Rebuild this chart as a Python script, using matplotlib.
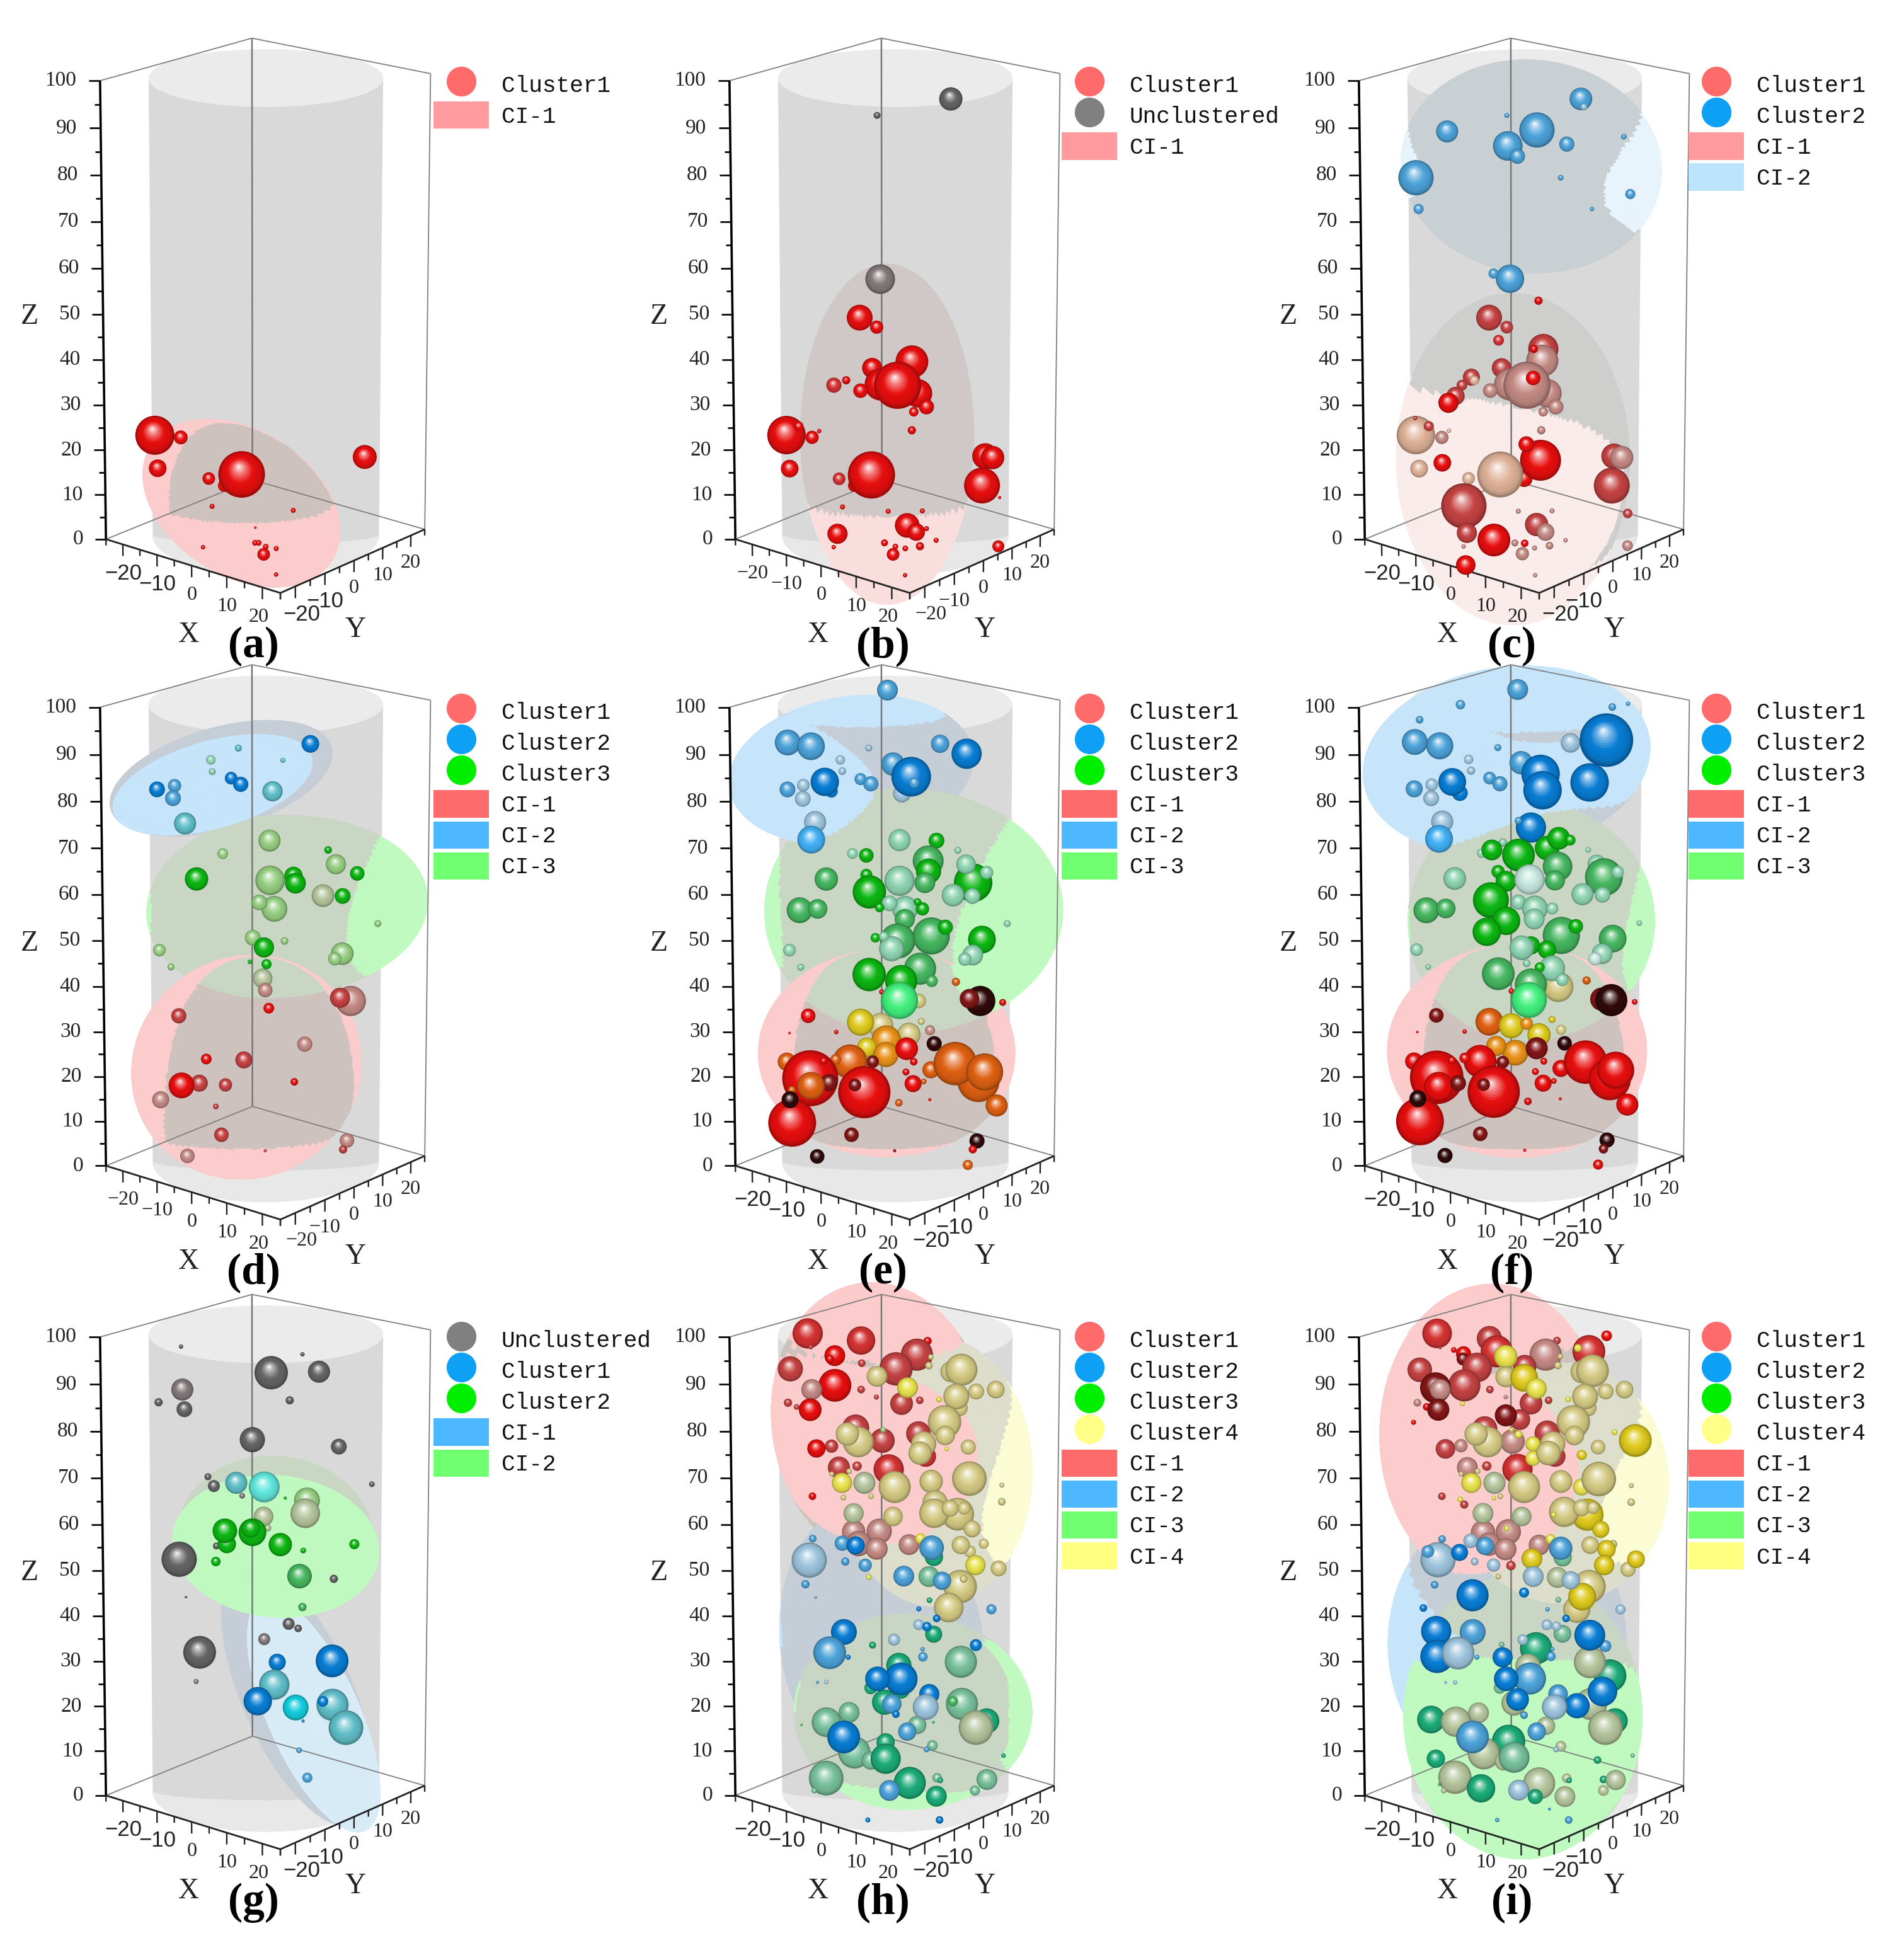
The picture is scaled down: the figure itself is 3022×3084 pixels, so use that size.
import numpy as np
import matplotlib
matplotlib.use("Agg")
import matplotlib.pyplot as plt
from matplotlib.lines import Line2D
from matplotlib.patches import Patch
from mpl_toolkits.mplot3d import proj3d
from mpl_toolkits.mplot3d.art3d import Poly3DCollection

# ---------- data: (x, y, z, diameter, colour code) ----------
A_C1 = [(-18.6,-15.7,22.3,62,'r'),(-14.3,-12,21.8,22,'r'),(-18.2,-15.3,14.9,28,'r'),(-9.6,-8.1,12.6,20,'r'),(-7,-5.9,11,20,'r'),
(-4.1,-3.4,13.5,74,'r'),(16.6,14,17.4,38,'r'),(-9.1,-7.6,6.3,8,'r'),(4.6,3.9,5.4,8,'r'),(-1.8,-1.5,1.5,4,'r'),(-5.4,-15,0,7,'r'),
(1.6,-5.6,0,9,'r'),(2.2,-5.1,0,9,'r'),(4.9,-5.9,0,9,'r'),(7.6,-9.8,0,20,'r'),(7.4,-5.3,0,8,'r'),(17.4,-17.3,0,7,'r')]

B_U = [(9.1,7.6,95.4,37,'s'),(-3,-2.5,91.9,11,'s'),(-2.5,-2.1,56.7,47,'S')]
B_C1 = [(-5.9,-5,48.3,41,'r'),(-3.1,-2.6,46.2,21,'r'),(2.8,2.3,38.6,52,'r'),(-3.9,-3.2,37.2,32,'r'),(-2.4,-2.1,33.6,51,'r'),(3.8,3.2,31.6,45,'r'),
(5.2,4.4,28.6,24,'r'),(0.4,0.3,33.4,75,'r'),(3.1,2.6,27.5,15,'r'),(2.8,2.3,23.4,13,'r'),(-5.8,-4.9,32.2,23,'r'),(-10.3,-8.6,33.4,24,'q'),(-8.2,-6.9,34.5,13,'r'),
(-18.3,-15.3,22.3,61,'r'),(-16.2,-13.6,24.3,15,'r'),(-14,-11.7,21.8,21,'r'),(-12.8,-10.7,23.2,7,'r'),(-17.8,-14.9,14.8,28,'r'),(-9.5,-7.9,12.5,20,'q'),(-6.9,-5.8,11,20,'r'),
(-4,-3.4,13.4,75,'r'),(15.1,12.7,17.6,41,'r'),(16.4,13.7,17.3,37,'r'),(14.6,12.3,11,57,'r'),(17.6,14.8,8.3,5,'r'),(-8.9,-7.5,6.2,8,'r'),(4.6,3.8,5.3,8,'r'),(-1.2,-1,5.2,8,'r'),
(2,1.7,2,39,'r'),(3.5,3,0.5,28,'r'),(-9.8,-8.2,0.1,32,'r'),(5.3,4.4,1.3,8,'r'),(22.1,8.8,0,19,'r'),(9.3,2.9,0,8,'r'),(8.9,-2.2,0,13,'r'),(7.3,-5.3,0,9,'r'),(1.6,-5.6,0,11,'r'),
(4.9,-5.8,0,9,'r'),(7.6,-9.8,0,20,'r'),(-5.2,-14.8,0,7,'r'),(17.6,-17.7,0,7,'r')]

C_C2 = [(9.2,7.7,95.4,36,'l'),(9.7,8.1,93.7,11,'L'),(2,1.7,88.8,56,'l'),(-2.8,-2.3,85.4,47,'l'),(-1.2,-1,83.2,24,'l'),(6.9,5.8,85.8,24,'l'),(-12.7,-10.7,88.5,35,'l'),
(-2.9,-2.5,91.9,8,'l'),(16.3,13.6,87.4,9,'l'),(5.9,5,78.6,9,'l'),(-17.9,-15,78.6,56,'l'),(-17.5,-14.7,71.9,16,'l'),(17.4,14.6,75.1,16,'l'),(11.1,9.3,71.9,7,'l'),(-2.4,-2.1,56.8,45,'l'),(-5.2,-4.3,57.9,16,'l')]
C_C1 = [(2.3,1.9,52,13,'r'),(-5.9,-5,48.3,41,'R'),(-3,-2.5,46.2,20,'R'),(-4.4,-3.6,43.3,17,'q'),(3.1,2.6,41.4,48,'R'),(2.9,2.5,38.8,51,'P'),(1.5,1.3,41.4,13,'r'),(-3.9,-3.2,37.2,31,'R'),
(-2.4,-2.1,33.6,51,'P'),(3.8,3.2,31.6,45,'P'),(5.2,4.4,28.6,24,'P'),(0.4,0.3,33.4,75,'P'),(3.1,2.6,27.5,15,'P'),(2.8,2.3,23.4,13,'P'),(1.4,1.2,35,23,'r'),(-5.8,-4.8,32.2,23,'P'),(-8.9,-7.5,35.2,27,'R'),
(-8.4,-7.1,34.5,15,'p'),(-10.5,-8.8,33.4,17,'R'),(-11.6,-9.7,31,29,'R'),(-12.8,-10.7,29.5,32,'r'),(-18.3,-15.3,22.3,61,'p'),(-16.1,-13.5,24.3,16,'R'),(-13.9,-11.7,21.8,21,'P'),(-12.7,-10.7,23.3,7,'p'),
(-18.4,-15.4,26.1,7,'R'),(-17.8,-14.9,14.8,28,'p'),(-13.9,-11.6,16.1,28,'r'),(-0.1,-0.1,12.6,27,'r'),(2.7,2.2,16.7,65,'r'),(0.3,0.2,20.3,25,'r'),(-9.5,-7.9,12.6,20,'p'),(-4.1,-3.5,13.5,73,'p'),(15,12.6,17.6,40,'R'),(16.3,13.7,17.3,37,'P'),
(14.7,12.3,11,57,'R'),(17.4,14.6,4.7,15,'R'),(-10.3,-8.6,6.4,72,'R'),(2,1.7,2.2,37,'R'),(3.5,3,0.5,28,'P'),(-1.1,-0.9,5.2,8,'P'),(4.6,3.9,5.3,8,'P'),(-9.8,-8.2,0.3,32,'R'),(-2.9,-7.1,0,52,'r'),(2.3,-22.6,0,31,'r'),
(7.3,-9.5,0,21,'P'),(3.6,-4.3,0,12,'r'),(1.8,-5.5,0,11,'P'),(7.1,-5.1,0,8,'P'),(8.7,-1.9,0,12,'P'),(9.3,2.9,0,7,'P'),(21.8,9.1,0,17,'P'),(17.7,-17.6,0,7,'P'),(-5.4,-14.4,0,7,'P')]

D_C1 = [(-0.5,-0.5,40.8,31,'K'),(-0.1,-0.1,38.2,23,'P'),(0.5,0.4,34.2,17,'r'),(14.2,11.9,35.8,48,'P'),(12.4,10.4,36.5,32,'R'),(-14.6,-12.2,32.5,24,'R'),(6.5,5.5,26.2,24,'P'),(-10,-8.4,22.9,17,'r'),
(-3.7,-3.1,22.7,27,'R'),(-11.2,-9.4,17.5,27,'R'),(-14.2,-11.9,17,41,'r'),(-6.8,-5.7,17.1,21,'R'),(4.8,4,17.8,12,'r'),(-17.7,-14.9,13.8,27,'P'),(-8.4,-7.1,12.3,9,'R'),(-7.5,-6.3,5.9,23,'R'),(13.7,11.5,4.6,23,'P'),
(13.1,10.9,2.6,13,'R'),(-13.3,-11.1,1.1,23,'P'),(-0.1,-0.1,2.3,5,'R')]
D_C2 = [(7.3,6.1,91.5,28,'b'),(-4.5,-3.8,90.6,11,'a'),(-9,-7.6,88.1,15,'m'),(-8.8,-7.4,85.6,11,'m'),(2.8,2.3,88,8,'a'),(-15,-12.6,82.6,21,'l'),(-17.9,-15,81.8,25,'b'),(-15.3,-12.8,79.9,25,'l'),(-5.7,-4.8,84.2,20,'b'),
(-4.1,-3.5,82.9,24,'b'),(1.1,0.9,81.4,32,'a'),(-13.3,-11.2,74.5,35,'a')]
D_C3 = [(0.6,0.5,70.8,35,'G'),(-7.1,-6,68,17,'G'),(-11.5,-9.6,62.5,37,'g'),(0.7,0.6,62.2,47,'G'),(4.6,3.8,63.2,29,'g'),(4.9,4.1,61.6,33,'g'),(10.3,8.6,68.8,12,'g'),(11.6,9.7,65.7,32,'G'),(15.1,12.7,63.7,23,'g'),
(9.5,7.9,58.9,36,'K'),(12.7,10.7,58.8,25,'g'),(1.4,1.2,56,41,'G'),(-1.1,-0.9,57.4,25,'G'),(18.6,15.6,52.8,11,'G'),(-2.2,-1.8,49.7,25,'G'),(-0.3,-0.3,47.6,32,'g'),(3.1,2.6,49,12,'G'),(-17.7,-14.9,47,20,'G'),
(-15.8,-13.3,43.3,11,'G'),(-2.7,-2.2,44.4,7,'g'),(0.1,0.1,43.9,16,'g'),(12.7,10.7,46.2,36,'G'),(11.5,9.6,45.1,21,'G')]

E_C1 = [(10.1,8.5,40,13,'o'),(-2.3,-1.9,37.8,8,'r'),(14.2,11.9,35.8,48,'k'),(12.4,10.4,36.3,31,'d'),(18,15,35.5,11,'r'),(-14.6,-12.2,32.5,23,'r'),(-17.7,-14.9,28.7,4,'r'),(-9.9,-8.3,28.9,7,'r'),(3.9,3.3,35.8,23,'Y'),
(-2.4,-2.1,30.4,40,'Y'),(2.3,1.9,28.4,37,'Y'),(4.4,3.6,31.3,11,'Y'),(5.8,4.9,29.3,16,'P'),(-1.5,-1.3,27.1,47,'u'),(-5.8,-4.9,31.1,43,'y'),(-4.8,-4,25.5,31,'y'),(-1.6,-1.3,23.9,40,'u'),(1.9,1.6,25.2,36,'r'),(6.5,5.5,26.3,24,'k'),
(-3.8,-3.2,22.3,20,'d'),(-7.6,-6.4,22.3,55,'o'),(-10,-8.4,22.8,17,'o'),(-18.2,-15.3,22.3,29,'o'),(-14.3,-12,18.6,89,'r'),(-12,-10.1,22.5,12,'r'),(-11.2,-9.3,17.6,27,'d'),(-14.2,-11.9,16.9,44,'o'),(-5.2,-4.4,15.5,83,'r'),
(-6.8,-5.7,17.1,20,'d'),(3.1,2.6,22.3,12,'r'),(6,5,20.5,27,'o'),(14,11.7,18,67,'o'),(10.1,8.4,21.9,69,'o'),(15,12.6,20,59,'o'),(1.8,1.5,20,11,'r'),(3,2.5,17.4,27,'r'),(4.8,4,17.9,9,'o'),(0.6,0.5,13.1,12,'o'),(5.8,4.9,13.8,5,'r'),
(17.1,14.3,12.5,35,'o'),(-17.4,-14.6,16,13,'o'),(-17.4,-14.6,8.6,76,'r'),(-17.7,-14.9,13.8,27,'k'),(-7.4,-6.2,5.9,23,'d'),(-13.2,-11.1,1,23,'k'),(13.8,11.6,4.5,24,'k'),(13.1,11,2.6,13,'r'),(13.9,8.3,0,16,'o'),(-0.1,-0.1,2.3,5,'d')]
E_C2 = [(-9,8.1,100,33,'l'),(-17.6,-14.8,91.8,41,'l'),(-13.8,-11.6,91,44,'l'),(-4.4,-3.6,90.6,11,'L'),(-9,-7.6,88.1,15,'L'),(-8.7,-7.3,85.7,12,'L'),(-17.7,-14.9,81.8,25,'l'),(-15.1,-12.7,82.7,20,'L'),(-15.2,-12.8,79.8,25,'L'),
(-10.5,-8.8,81.4,20,'b'),(-11.6,-9.7,83.4,45,'b'),(-5.7,-4.8,84,19,'l'),(-4,-3.4,83,24,'l'),(-0.4,-0.3,87.2,37,'l'),(1.1,0.9,80.9,28,'L'),(2.6,2.2,84.5,63,'b'),(3.1,2.6,83.2,17,'l'),(7.3,6.2,91.5,29,'l'),(11.7,9.8,89.4,48,'b'),
(-13.2,-11.1,74.8,35,'L'),(-13.9,-11.6,71,44,'B')]
E_C3 = [(0.7,0.6,70.9,35,'m'),(6.8,5.7,70.8,25,'g'),(10.3,8.7,68.7,11,'m'),(-7.1,-5.9,68,17,'m'),(-4.8,-4,67.6,23,'g'),(5.4,4.6,66.4,49,'e'),(5.5,4.6,64.2,40,'g'),(4.9,4.1,61.7,33,'e'),(-11.4,-9.6,62.5,37,'e'),
(-4.8,-4,63.4,19,'g'),(-4.3,-3.6,59.7,53,'g'),(0.7,0.6,62.1,48,'m'),(12.9,10.8,61.7,61,'g'),(11.7,9.8,65.7,31,'m'),(15.1,12.7,63.9,21,'m'),(9.6,8,59,36,'m'),(12.8,10.7,58.8,25,'m'),(-15.9,-13.3,55.7,41,'e'),(-12.9,-10.8,56,31,'e'),
(1.6,1.4,56,41,'m'),(-1,-0.8,57.2,25,'m'),(-2.6,-2.2,56.3,15,'g'),(4.5,3.8,56,21,'g'),(3.7,3.1,57.5,12,'g'),(1.6,1.3,53.8,32,'e'),(18.6,15.6,52.8,11,'m'),(6,5,50.1,59,'e'),(8.3,7,52,24,'g'),(14.4,12.1,49.3,44,'g'),(-3.3,-2.8,49.7,15,'g'),
(0.4,0.3,49,56,'e'),(-0.6,-0.5,47.3,40,'m'),(-1.9,-1.6,50,15,'m'),(-17.6,-14.8,47,20,'m'),(-15.8,-13.2,43.2,11,'m'),(12.9,10.8,45.9,33,'m'),(11.6,9.7,45,21,'m'),(-4.4,-3.6,41.6,53,'g'),(4.1,3.5,42.9,51,'e'),(6.1,5.1,40.2,19,'e'),(1,0.8,40.2,51,'g'),
(0.7,0.6,35.9,59,'W')]

F_C1 = [(5.6,4.7,38.9,48,'Y'),(10.3,8.7,40.3,13,'o'),(12.9,10.8,36.2,37,'d'),(14.5,12.1,36,51,'k'),(18.4,15.4,35.6,9,'r'),(-14.8,-12.4,32.6,23,'d'),(-2.2,-1.9,38,9,'r'),(-5.9,-5,31.2,44,'o'),(-2.2,-1.9,30.3,40,'y'),(2.4,2,28.3,37,'y'),
(6.1,5.1,29.4,16,'Y'),(4.6,3.8,31.7,11,'y'),(-1.6,-1.3,24.3,41,'u'),(-4.8,-4,25.8,32,'u'),(0.3,0.3,30.8,20,'u'),(2,1.7,25.3,35,'d'),(6.7,5.6,26.4,23,'k'),(-7.5,-6.3,22.4,52,'r'),(-10.1,-8.4,23.1,17,'r'),(-18.6,-15.6,22.4,28,'r'),(-14.8,-12.4,18.8,85,'r'),
(-12.2,-10.3,22.6,13,'r'),(-14.5,-12.1,16.7,47,'r'),(-11.2,-9.4,17.5,25,'d'),(-3.7,-3.1,22.2,20,'d'),(-5.2,-4.4,15.6,83,'r'),(-6.9,-5.8,17.2,20,'d'),(3.2,2.7,22.4,11,'r'),(6.1,5.1,20.8,27,'r'),(10.2,8.6,22.2,69,'r'),(14.3,12,18.4,67,'r'),(15.3,12.8,20.4,59,'r'),
(1.8,1.5,20.1,11,'r'),(3.1,2.6,17.5,27,'r'),(4.9,4.1,18,9,'r'),(0.5,0.5,13.4,12,'r'),(6,5,14,5,'r'),(17.3,14.5,12.7,35,'r'),(-17.7,-14.8,8.9,76,'r'),(-18,-15.1,14,27,'k'),(-7.5,-6.3,6.1,23,'d'),(-13.5,-11.3,1.2,24,'k'),(13.9,11.7,4.7,24,'k'),(13.3,11.2,2.7,15,'d'),
(13.9,8.6,0,16,'r'),(0,0,2.4,5,'r'),(-18,-15.1,28.9,4,'r'),(-10.1,-8.4,29,7,'r')]
F_C2 = [(-9.2,8.6,100,33,'l'),(-10.5,-8.8,99.8,15,'l'),(-17.2,-14.4,96.6,12,'l'),(-18,-15.1,91.9,41,'l'),(-13.9,-11.7,91.1,43,'l'),(-9.2,-7.7,88.2,15,'L'),(-8.8,-7.4,85.8,13,'L'),(-4.4,-3.7,90.7,11,'l'),(-18.2,-15.2,81.9,27,'l'),(-15.3,-12.8,82.8,20,'L'),(-15.4,-12.9,79.9,25,'L'),
(-10.7,-8.9,81,25,'b'),(-11.9,-10,83.4,44,'b'),(-5.8,-4.8,84.2,20,'l'),(-4.1,-3.4,83,24,'l'),(-0.6,-0.5,87.5,37,'l'),(2.6,2.2,85.1,61,'b'),(2.9,2.5,81.6,61,'b'),(7.5,6.3,91.7,31,'L'),(13.4,11.2,92.3,85,'b'),(10.7,8.9,83.3,61,'b'),(14.3,12,99.3,12,'l'),(16.9,14.1,100,7,'l'),
(-13.6,-11.4,74.9,35,'L'),(-14.1,-11.9,71.2,44,'B'),(1,0.9,73.6,48,'b'),(-1,-0.9,75.1,12,'l')]
F_C3 = [(-7.1,-6,68.1,15,'m'),(-3.6,-3,70.4,13,'m'),(3.7,3.1,69.2,39,'g'),(5.6,4.7,71.3,36,'g'),(7.5,6.3,70.9,17,'g'),(-5.4,-4.6,68.8,33,'g'),(-1,-0.9,67.7,52,'g'),(5.4,4.6,65.2,47,'e'),(5,4.2,62.2,32,'e'),(11.9,10,65.8,29,'m'),(13.1,11,62.9,60,'e'),(15.4,12.9,64,20,'m'),
(9.6,8,59.2,35,'m'),(12.9,10.8,59.1,25,'m'),(10.5,8.8,68.8,9,'m'),(-11.6,-9.7,62.6,36,'m'),(-4.4,-3.7,64.1,21,'g'),(-3.1,-2.6,62,33,'g'),(-5.6,-4.7,57.9,57,'g'),(-16.3,-13.7,55.7,41,'e'),(-13.1,-11,56.1,31,'e'),(-1,-0.9,57.5,24,'m'),(1.7,1.4,56.1,41,'m'),(-3.1,-2.6,53.4,45,'g'),
(-6.3,-5.3,51,45,'g'),(1.6,1.3,53.8,33,'m'),(4.6,3.8,56.1,19,'m'),(6.1,5.1,50.2,59,'e'),(8.5,7.1,52.2,23,'g'),(14.6,12.3,49.5,44,'e'),(19,16,52.9,9,'m'),(-18,-15.1,47.1,20,'m'),(-16.1,-13.5,43.3,9,'m'),(12.9,10.8,46.2,33,'m'),(11.7,9.8,45.1,21,'w'),(1,0.9,48,29,'g'),(3.7,3.1,47.1,29,'g'),
(-0.5,-0.4,47.5,39,'m'),(-4.4,-3.7,41.8,52,'e'),(4.6,3.8,43,41,'m'),(6.3,5.2,40.5,20,'m'),(2.5,2.1,43.2,16,'g'),(0.3,0.3,44.1,12,'m'),(1,0.9,39.4,51,'e'),(0.8,0.7,62.4,48,'w'),(0.7,0.6,36,57,'W')]

G_U = [(-13.9,-11.6,97.2,7,'s'),(6,5,95.6,7,'s'),(0.9,0.7,91.7,53,'s'),(8.7,7.3,91.9,35,'s'),(-13.7,-11.5,88.1,35,'S'),(-17.6,-14.8,85.4,13,'s'),(-13.4,-11.2,83.9,25,'s'),(3.9,3.3,85.8,13,'s'),(-2.2,-1.9,77.4,40,'s'),(12,10.1,75.9,25,'s'),(-9.6,-8,69.4,11,'s'),(-8.6,-7.2,67.4,19,'s'),
(17.5,14.7,67.8,9,'s'),(-3.9,-3.3,65.3,9,'S'),(-8.2,-6.9,54.4,11,'s'),(-14.4,-12.1,51.5,56,'s'),(11.3,9.5,47.2,13,'s'),(-13.3,-11.2,43.2,4,'s'),(3.8,3.2,37.3,19,'s'),(5.4,4.5,36.3,12,'s'),(-0.3,-0.2,33.9,19,'S'),(-11.1,-9.3,31,52,'s'),(-11.7,-9.8,24.5,8,'S')]
G_C1 = [(-4.9,-4.1,68.1,35,'a'),(-0.3,-0.2,67.2,49,'C'),(11.1,9.3,29.1,52,'b'),(1.9,1.6,28.8,27,'b'),(1.4,1.2,23.8,48,'a'),(-1.4,-1.1,20.1,45,'b'),(11.2,9.4,19.3,51,'a'),(9.6,8,20.1,17,'b'),(5,4.2,18.7,41,'c'),(13.5,11.3,14.2,55,'a'),(6.3,5.2,15.7,5,'b'),(5.6,4.7,9.1,9,'l'),(7,5.9,2.9,16,'l')]
G_C2 = [(6.8,5.7,64.3,41,'G'),(6.5,5.5,61.5,47,'K'),(-0.4,-0.3,60.8,31,'K'),(0.3,0.3,58.3,11,'K'),(3.2,2.7,64.8,5,'g'),(-6.5,-5.4,54.8,29,'g'),(-6.8,-5.7,57.7,39,'g'),(-2.2,-1.9,57.4,44,'g'),(-2.5,-2.1,58.2,29,'g'),(2.4,2,54.7,37,'g'),(6.2,5.2,53.4,9,'g'),(14.7,12.3,54.8,16,'g'),(-8.3,-7,51,15,'g'),(5.6,4.7,47.8,39,'e'),(6.1,5.1,41,13,'e')]

H_C1 = [(-14.3,-12,100,48,'q'),(-5.6,-4.7,98.5,45,'q'),(-9.9,-8.3,95.3,33,'r'),(-10.7,-9,94.6,13,'r'),(-13.8,-11.6,97.1,7,'R'),(-17.2,-14.4,92.5,40,'R'),(5.3,4.4,98.4,13,'r'),(3.5,3,95.5,51,'R'),(0.1,0.1,92.5,53,'R'),(-5.5,-4.6,93.7,12,'R'),(-9.9,-8.3,89,52,'r'),(-13.7,-11.5,88.1,33,'P'),(-17.6,-14.8,85.3,13,'R'),(-16.2,-13.6,84.4,9,'R'),
(-14,-11.7,83.8,36,'r'),(-5.6,-4.7,88.1,12,'R'),(-3.1,-2.6,86.5,8,'R'),(1,0.9,85.1,36,'R'),(4,3.4,85.8,12,'R'),(-6.5,-5.5,79.9,43,'R'),(-2.1,-1.8,77.2,39,'R'),(3.8,3.2,78.7,39,'R'),(-13,-10.9,75.5,29,'r'),(-10.5,-8.8,76,21,'R'),(-1.1,-0.9,71,48,'q'),(-9.3,-7.8,71.4,35,'R'),(-6.3,-5.3,71.7,15,'R'),(5,4.2,73.8,33,'q'),(-13.7,-11.5,65.2,12,'r'),(0.6,0.5,66.5,33,'R'),
(-6.9,-5.8,57.5,37,'P'),(-2.7,-2.2,57.6,40,'P'),(-6.1,-5.1,54.9,40,'P'),(-3.1,-2.6,53.8,35,'P'),(2.3,1.9,54.7,33,'P')]
H_C4 = [(9.1,7.6,91.9,33,'Y'),(10.8,9.1,92.3,51,'Y'),(-3,-2.5,90.9,33,'Y'),(2,1.7,88.5,33,'n'),(16.5,13.8,88.1,28,'Y'),(13.3,11.1,87.7,25,'Y'),(10.5,8.8,84.2,27,'Y'),(10,8.4,86.6,41,'Y'),(5.8,4.9,95,9,'Y'),(5.5,4.6,93.2,12,'Y'),(7.2,6,86,9,'n'),(8.1,6.8,81.2,53,'Y'),(8.2,6.9,78.3,31,'Y'),(4.7,3.9,76.5,40,'Y'),(4.1,3.4,74.5,37,'Y'),(12,10.1,75.8,24,'Y'),
(-2,-1.7,79.5,9,'G'),(-6.1,-5.1,76.9,49,'Y'),(-7.9,-6.6,78.6,37,'Y'),(8.5,7.1,75.4,7,'n'),(12.2,10.3,69,55,'Y'),(5.9,5,68.4,37,'Y'),(-5.1,-4.3,68.1,35,'K'),(-8.8,-7.4,68.1,32,'n'),(-0.1,-0.1,67.2,51,'Y'),(-7.6,-6.4,70.6,9,'Y'),(-10.5,-8.8,70,8,'Y'),(-8.6,-7.2,64.9,9,'Y'),(-4,-3.4,65.2,9,'Y'),(17.6,14.8,67.6,8,'Y'),(17.6,14.8,64,12,'Y'),(-6.9,-5.8,61.5,32,'K'),(-0.4,-0.3,60.8,31,'Y'),
(10.3,8.7,61.3,52,'Y'),(6.6,5.5,63.8,40,'Y'),(6.4,5.4,61.5,47,'Y'),(9.1,7.6,62.6,27,'Y'),(11.4,9.5,62.6,20,'Y'),(12.7,10.7,58.1,27,'Y'),(14.7,12.3,54.9,16,'Y'),(12.4,10.4,53.2,19,'Y'),(10.9,9.1,54.6,29,'Y'),(4.2,3.5,56,17,'n'),(13.3,11.2,50.2,32,'n'),(17.2,14.4,49.5,25,'Y'),(10.8,9.1,45.5,53,'Y'),(11.4,9.5,47.2,12,'Y'),(-4.4,-3.7,47.6,9,'n'),(8.9,7.5,40.9,47,'Y')]
H_C3 = [(6.4,5.4,52,29,'t'),(5.6,4.7,47.7,33,'T'),(5.7,4.8,42.5,9,'t'),(6.4,5.4,35,27,'t'),(-3.8,-3.2,32.6,11,'t'),(11,9.2,28.9,51,'T'),(0.6,0.5,28.1,40,'t'),(-4.1,-3.5,23.1,20,'t'),(-1.8,-1.5,19.9,40,'t'),(1,0.8,22.6,27,'t'),(11.2,9.4,19.5,51,'T'),(9.7,8.1,20.1,16,'e'),(15.4,12.9,15.7,40,'t'),(13.6,11.4,14.2,55,'K'),(-7.8,-6.5,17.6,33,'T'),(-11.6,-9.7,15.4,47,'T'),(3.7,3.1,14.8,29,'T'),(6.4,5.4,15.4,4,'t'),(-15.8,-13.2,14.8,4,'e'),
(6.3,5.2,10.2,17,'T'),(-1.6,-1.4,10.9,29,'t'),(-6.9,-5.8,8.6,51,'T'),(-4.1,-3.5,6.8,29,'T'),(-1.6,-1.4,7.2,48,'t'),(18.3,15.3,7.9,7,'t'),(-11.7,-9.8,2.8,55,'T'),(2.4,2.1,1.7,51,'t'),(7.1,5.9,2.9,15,'T'),(7.6,6.4,2.3,9,'t'),(15.5,13,2.5,33,'T'),(13.5,11.3,0,16,'T'),(9.2,3.1,0,33,'t'),(-13.7,-11.5,0,9,'T')]
H_C2 = [(-14.3,-12,51.3,56,'L'),(-13.7,-11.5,56,12,'l'),(-8.8,-7.4,55,24,'l'),(-6.6,-5.5,54.5,29,'b'),(-8.3,-7,51,13,'l'),(-5,-4.2,50.2,21,'l'),(-15,-12.5,46,13,'l'),(1.4,1.2,47.8,33,'l'),(6,5.1,54,39,'l'),(7.8,6.5,46.8,29,'l'),(-13.3,-11.1,43.1,4,'l'),(16,13.5,40.5,16,'l'),(3.9,3.3,40.6,8,'b'),(6.9,5.8,38.5,12,'b'),(3.9,3.3,37.1,17,'L'),(5.3,4.4,36.7,15,'b'),(-0.2,-0.2,33.8,19,'L'),(-8.6,-7.2,35.5,41,'b'),(-11,-9.2,30.9,52,'l'),(-7.9,-6.6,29.9,8,'b'),(13.5,11.3,32.6,19,'b'),
(4.6,3.8,31.7,7,'l'),(4.6,3.9,30,15,'l'),(-13.1,-10.9,24.3,5,'l'),(-11.6,-9.7,24.4,7,'L'),(1,0.8,25.1,52,'b'),(-3,-2.5,25.1,39,'b'),(5.7,4.8,21.7,32,'b'),(-0.6,-0.5,19.5,31,'l'),(5.1,4.3,18.8,41,'L'),(0.1,0.1,17.2,12,'b'),(2,1.7,13.3,29,'l'),(-8.7,-7.3,12.1,52,'b'),(5.3,4.4,9.3,9,'l'),(-1,-0.8,0,33,'l'),(18.9,-7.6,0,12,'b'),(7,-17.6,0,8,'b')]

I_C1 = [(-14.3,-12,100,47,'q'),(-5.8,-4.8,98.9,40,'R'),(-4.6,-3.8,96.2,51,'q'),(-11.6,-9.7,96.5,9,'r'),(-10,-8.4,95.7,24,'r'),(-10.1,-8.5,94.6,20,'d'),(-13.8,-11.6,96.9,4,'R'),(-17.2,-14.4,92.3,39,'R'),(-7.8,-6.5,92.8,47,'R'),(5.3,4.4,98.5,12,'R'),(3.4,2.9,95.5,51,'P'),(0,0,93,37,'R'),(10.5,8.8,96.2,52,'q'),(13.4,11.2,99.5,17,'r'),(-9.9,-8.3,89,51,'R'),(-14.6,-12.3,88.5,49,'d'),(-13.9,-11.6,88.1,33,'P'),(-17.6,-14.8,85.3,12,'P'),(-16.1,-13.5,84.4,12,'r'),(-14.2,-11.9,83.8,35,'d'),
(-18.3,-15.3,81.1,8,'r'),(-5.7,-4.8,88.1,12,'R'),(-3.1,-2.6,86.5,7,'P'),(1,0.9,85.2,36,'R'),(3.9,3.3,85.8,12,'R'),(-0.8,-0.7,81.7,33,'R'),(-3.1,-2.6,82.6,35,'d'),(-6.6,-5.5,79.7,40,'R'),(-2,-1.7,77,39,'P'),(3.7,3.1,78.8,40,'R'),(-13.1,-10.9,75.4,31,'R'),(-10.5,-8.8,76.1,21,'P'),(-1.2,-1,71.1,48,'q'),(-9.5,-7.9,71.4,33,'P'),(-6.3,-5.2,71.7,15,'R'),(5,4.2,73.8,33,'R'),(-13.7,-11.5,65.2,12,'R'),(0.5,0.5,66.3,33,'R'),(-10,-8.4,63.4,13,'R'),
(-6.9,-5.8,57.3,39,'P'),(-2.7,-2.3,57.5,40,'P'),(-5.9,-5,54.8,37,'P'),(-3.2,-2.7,53.7,35,'P'),(2.4,2,54.6,33,'P'),(-2.3,-1.9,50.1,15,'R')]
I_C4 = [(9.4,7.9,91.9,37,'Y'),(11.1,9.3,92.1,52,'Y'),(-3.1,-2.6,95.1,37,'n'),(-3.1,-2.6,90.8,33,'Y'),(-0.1,-0.1,90.6,44,'y'),(1.9,1.6,88.3,33,'n'),(8.7,7.3,96.9,13,'n'),(16.4,13.7,88.1,28,'Y'),(13.3,11.1,87.7,25,'Y'),(10.4,8.7,84.2,27,'Y'),(9.9,8.3,86.6,41,'Y'),(5.8,4.9,95.1,9,'Y'),(5.4,4.6,93.2,12,'Y'),(7.1,6,86,9,'n'),(-10.2,-8.6,85.1,8,'n'),(8,6.7,81.2,53,'Y'),(8.2,6.8,78.3,31,'Y'),(-1,-0.9,78.5,13,'n'),(-2.2,-1.8,79.5,7,'n'),
(-6.1,-5.1,76.9,49,'Y'),(-8,-6.7,78.6,37,'Y'),(12.1,10.1,75.8,23,'Y'),(14.8,12.4,79,9,'n'),(18.2,15.3,77.2,52,'y'),(9.4,7.9,74.1,16,'y'),(1.4,1.1,76.5,24,'n'),(1.4,1.1,73.4,24,'n'),(4.6,3.9,76.5,40,'Y'),(3.9,3.3,74.5,39,'Y'),(9.4,7.9,67.2,27,'n'),(12.2,10.3,68.9,55,'Y'),(6,5,68.4,36,'Y'),(-5,-4.2,68.1,35,'K'),(-8.8,-7.4,68.1,32,'n'),(-0.1,-0.1,67.2,51,'Y'),(-7.8,-6.5,70.6,9,'Y'),(-10.5,-8.8,70,8,'Y'),(17.6,14.8,67.5,8,'Y'),(17.6,14.8,63.9,12,'Y'),
(-10.7,-8.9,64.5,9,'n'),(-5.1,-4.3,64.8,7,'n'),(-4,-3.4,65.2,9,'Y'),(-6.9,-5.8,61.5,33,'K'),(-0.5,-0.4,60.8,31,'K'),(10.4,8.7,61.2,51,'y'),(6.5,5.5,61.8,48,'Y'),(9.4,7.9,62.7,27,'Y'),(11.3,9.5,62.7,20,'Y'),(4.8,4,61.2,9,'n'),(12.6,10.6,58,27,'y'),(14.7,12.3,54.8,13,'Y'),(10.9,9.1,54.6,28,'Y'),(13.6,11.4,53.7,29,'y'),(4.3,3.6,55.9,16,'n'),(-3,-2.5,58.2,9,'n'),(13.2,11.1,50.2,32,'y'),(1.2,1,51.6,33,'y'),(17.2,14.4,49.3,24,'Y'),(18.5,15.5,51.5,28,'y'),(10.7,9,45.5,53,'Y'),(8.7,7.3,40.5,43,'Y'),(9.6,8,43.3,44,'y'),(-4.4,-3.7,47.7,9,'Y')]
I_C3 = [(6.3,5.3,51.9,29,'T'),(5.4,4.6,47.5,33,'K'),(5.6,4.7,42.6,9,'T'),(6.3,5.3,35.1,28,'T'),(-3.9,-3.2,32.7,9,'T'),(14.3,12,25.8,52,'t'),(10.9,9.2,28.8,51,'K'),(1.9,1.6,31.9,51,'t'),(0.5,0.5,27.9,40,'K'),(-4.2,-3.5,23.1,19,'T'),(-1.8,-1.5,19.7,40,'K'),(15.2,12.8,15.7,40,'t'),(11.2,9.3,19.5,51,'K'),(13.6,11.4,14.2,55,'K'),(-15.8,-13.2,16,44,'t'),(-7.8,-6.5,17.5,33,'K'),(-11.6,-9.7,15.5,48,'K'),(3.6,3,14.6,29,'K'),
(6.1,5.1,10,17,'K'),(-2.7,-2.3,11.1,53,'t'),(-6.9,-5.8,8.4,51,'K'),(-3.5,-3,6.6,29,'K'),(-1.8,-1.5,7.5,49,'T'),(-15,-12.6,7.2,29,'t'),(12.3,10.3,6.9,12,'t'),(18.2,15.3,7.9,7,'T'),(-11.8,-9.9,3,53,'K'),(2.4,2.1,1.6,51,'K'),(-7.4,-6.2,0.5,45,'t'),(7.1,6,2.8,15,'K'),(7.5,6.3,2.3,9,'t'),(13.3,11.2,2.5,12,'t'),(15.4,12.9,2.4,32,'K'),(13.3,11.2,0,17,'K'),(4.2,-1.4,0,24,'t'),(9.2,2.8,0,33,'K'),(-13.7,-11.5,0,9,'K'),(-14.4,-12.1,1.4,5,'t')]
I_C2 = [(-14.4,-12.1,51.4,56,'L'),(-16.1,-13.5,53.2,20,'l'),(-13.7,-11.5,55.9,12,'l'),(-10.8,-9.1,53,27,'b'),(-9,-7.5,55.5,23,'L'),(-6.6,-5.5,54.4,29,'l'),(-8.3,-7,51,12,'L'),(-5.2,-4.3,50.2,21,'L'),(-15,-12.6,45.9,12,'l'),(-8.7,-7.3,43.6,51,'b'),(1.4,1.2,47.7,33,'L'),(6,5,53.9,37,'l'),(7.7,6.4,46.9,29,'L'),(-16.9,-14.2,40.8,12,'b'),(-0.1,-0.1,44.2,16,'b'),(16,13.4,40.5,16,'L'),(3.8,3.2,40.5,7,'l'),(6.9,5.8,38.5,12,'b'),(3.7,3.1,37.1,17,'L'),(5.3,4.4,36.8,15,'L'),(-0.3,-0.3,33.8,17,'L'),(-14.8,-12.4,35.7,48,'b'),
(-8.7,-7.3,35.5,41,'l'),(-14.7,-12.3,30.1,53,'b'),(-11.2,-9.3,30.8,52,'L'),(-8,-6.7,29.9,8,'l'),(13.5,11.3,32.4,19,'l'),(10.9,9.1,34.8,49,'b'),(4.6,3.9,31.7,7,'l'),(4.4,3.7,30.1,15,'l'),(-3.7,-3.1,29.9,32,'b'),(-13.3,-11.1,24.3,5,'L'),(-11.7,-9.8,24.3,7,'L'),(0.9,0.7,25.2,51,'l'),(-3.1,-2.6,25.1,39,'b'),(5.6,4.7,21.7,31,'l'),(-1.2,-1,20.5,36,'b'),(13.1,10.9,22.3,47,'b'),(8.8,7.4,19.1,40,'b'),(5,4.2,18.8,40,'L'),(-0.1,-0.1,17,12,'l'),(2,1.7,13.3,29,'l'),(-8.8,-7.4,12.1,52,'l'),(5.3,4.4,9.3,9,'L'),(-1,-0.9,0.1,33,'L'),(18.9,-7.7,0,12,'l'),(7,-17.6,0,7,'l'),(11.5,-5.3,0,4,'b')]

# confidence ellipsoids: centre x, y, z, semi-axes a, b, depth c, tilt (deg), tone, shading rule, depth shear
A_CI = [(-17.7,12.5,-0.4,24,16,14,-30,'red','cyl',0)]
B_CI = [(-16.1,16.3,14.8,37,19.5,8,90,'redpale','z',0)]
C_CI = [(0,-4,18,35,25.5,28,90,'redfaint','cyl',0),(1.1,0.9,81,28,22,22,-5,'bluefaint','r',0)]
D_CI = [(-15.6,11.8,14.6,26,24,10,20,'red','cyl',0),(-7.3,-6.2,84.2,24.5,10.5,8,15,'blue','none',0),(-8.7,-7.4,82.8,22,9,8,15,'blue','all',0),(1.3,1.1,56.5,27.6,19,18,5,'green','cyl',1)]
E_CI = [(-12.5,11.9,18.5,28.7,22.4,10,0,'red','cyl',0),(-0.7,-13.7,88.5,26,15,15,8,'blue','cyl',0),(0.5,0.4,55.5,29,25.6,22,0,'green','cyl',0.9)]
F_CI = [(-12.3,12,19,29,23,10,0,'red','cyl',0),(2.2,-8.6,90,30.6,19,19,8,'blue','cyl',0),(0.1,0.1,53.3,25.5,25,14,0,'green','cyl',0.8)]
G_CI = [(5.3,4.5,21.5,30,12,8,-65,'blue','none',0),(8,6.8,17,27,10,8,-65,'bluelight','all',0),(1.6,1.4,56.8,21,16.4,8,-5,'green','none',0),(1.6,1.4,54.3,22.4,14.8,8,-5,'green','all',0)]
H_CI = [(1.4,-6.7,82.5,29,23,24,-80,'red','cyl',0),(-2.3,-1.9,33,30,22,22,-80,'blue','cyl',0),(-5.9,10.1,13.8,24.5,21,14,0,'green','cyl',1),(6.5,5.5,70.5,28,21,18,90,'yellow','cyl',0)]
I_CI = [(-1.4,-9.1,80,31,24,24,90,'red','cyl',0),(-2.9,-2.5,33,30,26,24,90,'blue','cyl',0),(3.6,-4.9,18.8,30,26,26,90,'green','cyl',0),(6.1,5.2,68,25,23,20,90,'yellow','cyl',0)]

X_TICKS = [-20,-10,0,10,20]
Y_TICKS = [-20,-10,0,10,20]
Z_TICKS = list(range(0,101,10))

PALETTE = dict(r=(232,14,14),q=(212,50,50),R=(196,66,66),P=(196,138,132),p=(222,178,152),d=(130,22,22),k=(48,10,10),
 o=(222,96,18),u=(232,146,24),y=(222,202,30),Y=(212,202,132),K=(180,196,156),n=(232,226,76),b=(8,125,212),l=(76,162,216),
 L=(156,196,220),B=(66,176,244),g=(12,182,18),e=(70,182,96),m=(142,212,178),W=(66,240,126),w=(196,230,220),G=(150,206,130),
 t=(28,170,120),T=(120,192,156),a=(96,190,200),c=(18,205,220),C=(96,230,220),s=(100,100,100),S=(130,120,122))
# outer tone (in front of / outside the cylinder), inner tone (seen inside it)
TONES = {'red':((252,204,204),(206,194,191)),'redpale':((250,222,222),(208,200,198)),'redfaint':((250,236,234),(206,206,204)),
 'blue':((198,229,250),(197,206,215)),'bluefaint':((232,244,252),(201,208,211)),'bluelight':((216,236,248),(197,206,215)),
 'green':((192,250,192),(201,214,196)),'yellow':((252,252,212),(222,222,204))}
C_RED='#ff6b6b'; C_BLUE='#0da0f5'; C_GREEN='#00ee00'; C_YEL='#ffff88'; C_GRAY='#808080'
CI_R='#ff6b6b'; CI_RP='#ff9a9e'; CI_B='#4db8ff'; CI_BP='#bde4fd'; CI_G='#70ff70'; CI_Y='#ffff80'

PANELS = [
 ('(a)',0,0,[A_C1],A_CI,[('Cluster1',C_RED)],[('CI-1',CI_RP)],True),
 ('(b)',1,0,[B_U,B_C1],B_CI,[('Cluster1',C_RED),('Unclustered',C_GRAY)],[('CI-1',CI_RP)],False),
 ('(c)',2,0,[C_C2,C_C1],C_CI,[('Cluster1',C_RED),('Cluster2',C_BLUE)],[('CI-1',CI_RP),('CI-2',CI_BP)],True),
 ('(d)',0,1,[D_C1,D_C2,D_C3],D_CI,[('Cluster1',C_RED),('Cluster2',C_BLUE),('Cluster3',C_GREEN)],[('CI-1',CI_R),('CI-2',CI_B),('CI-3',CI_G)],False),
 ('(e)',1,1,[E_C1,E_C2,E_C3],E_CI,[('Cluster1',C_RED),('Cluster2',C_BLUE),('Cluster3',C_GREEN)],[('CI-1',CI_R),('CI-2',CI_B),('CI-3',CI_G)],True),
 ('(f)',2,1,[F_C1,F_C2,F_C3],F_CI,[('Cluster1',C_RED),('Cluster2',C_BLUE),('Cluster3',C_GREEN)],[('CI-1',CI_R),('CI-2',CI_B),('CI-3',CI_G)],True),
 ('(g)',0,2,[G_U,G_C1,G_C2],G_CI,[('Unclustered',C_GRAY),('Cluster1',C_BLUE),('Cluster2',C_GREEN)],[('CI-1',CI_B),('CI-2',CI_G)],True),
 ('(h)',1,2,[H_C1,H_C4,H_C3,H_C2],H_CI,[('Cluster1',C_RED),('Cluster2',C_BLUE),('Cluster3',C_GREEN),('Cluster4',C_YEL)],[('CI-1',CI_R),('CI-2',CI_B),('CI-3',CI_G),('CI-4',CI_Y)],True),
 ('(i)',2,2,[I_C1,I_C4,I_C3,I_C2],I_CI,[('Cluster1',C_RED),('Cluster2',C_BLUE),('Cluster3',C_GREEN),('Cluster4',C_YEL)],[('CI-1',CI_R),('CI-2',CI_B),('CI-3',CI_G),('CI-4',CI_Y)],True),
]

# ---------- layout ----------
FW,FH = 3022,3084
COL_X = [422,1421,2420]
ROW_Y = [848,1842.5,2842]
LEG_X = [688,1685,2680]
LEG_Y = [112,1107,2104]
ELEV,AZIM = 17.5,-50
SERIF='Liberation Serif'; SANS='Liberation Sans'; MONO='Liberation Mono'

a_rad,e_rad=np.radians(AZIM),np.radians(ELEV)
RV=np.array([-np.sin(a_rad),np.cos(a_rad),0.])
DV=np.array([np.cos(e_rad)*np.cos(a_rad),np.cos(e_rad)*np.sin(a_rad),np.sin(e_rad)])
UV=np.array([-np.sin(e_rad)*np.cos(a_rad),-np.sin(e_rad)*np.sin(a_rad),np.cos(e_rad)])
FV=np.array([np.cos(a_rad),np.sin(a_rad),0.])

fig=plt.figure(figsize=(FW/100,FH/100),dpi=100,facecolor='white')

LO,HI=-0.095,0.09
def place(ax,cx,cy):
    M=ax.get_proj()
    def P(x,y,z):
        X,Y,_=proj3d.proj_transform(x,y,z,M); return X,Y
    X1,_=P(-25,-25,0); X2,_=P(25,25,0)
    side=506/(abs(X2-X1)/(HI-LO))
    X0,Y0=P(0,0,0)
    left=cx-(X0-LO)/(HI-LO)*side
    bottom=(FH-cy)-(Y0-LO)/(HI-LO)*side
    ax.set_position([left/FW,bottom/FH,side/FW,side/FH])
    def to_fig(x,y,z):
        X,Y=P(x,y,z)
        return (left+(X-LO)/(HI-LO)*side)/FW,(bottom+(Y-LO)/(HI-LO)*side)/FH
    return to_fig

def poly(ax,verts,color,zo):
    if not len(verts):
        return
    c=Poly3DCollection(verts,facecolors=[color],edgecolors=[color],linewidths=.6,zorder=zo)
    ax.add_collection3d(c,autolim=False)

def cylinder(ax):
    th=np.linspace(0,np.pi,90)
    arc=[25*np.cos(t)*RV+25*np.sin(t)*FV for t in th]
    top=[p+[0,0,100] for p in arc]
    side=top+arc[::-1]
    c=Poly3DCollection([side],facecolors=['#d9d9d9'],edgecolors='none',zorder=1); ax.add_collection3d(c,autolim=False)
    th2=np.linspace(0,2*np.pi,160)
    cap=[25*np.cos(t)*RV+25*np.sin(t)*FV+np.array([0,0,100]) for t in th2]
    c=Poly3DCollection([cap],facecolors=['#ebebeb'],edgecolors='none',zorder=1.1); ax.add_collection3d(c,autolim=False)
    inner=[25*np.cos(t)*RV+6*np.sin(t)*FV for t in th]
    c=Poly3DCollection([arc+inner[::-1]],facecolors=['#e8e8e8'],edgecolors='none',zorder=1.2); ax.add_collection3d(c,autolim=False)

def ellipsoid(ax,spec,zo):
    cx,cy,cz,a,b,dep,theta,tone,rule,shear=spec
    t=np.radians(theta)
    A1=np.cos(t)*RV+np.sin(t)*UV
    A2=-np.sin(t)*RV+np.cos(t)*UV
    C=np.array([cx,cy,cz])
    psi=np.linspace(0,np.pi/2,60)
    phi=np.linspace(0,2*np.pi,121)
    PS,PH=np.meshgrid(psi,phi,indexing='ij')
    pts=C+(a*np.sin(PS)*np.cos(PH))[...,None]*A1+(b*np.sin(PS)*np.sin(PH))[...,None]*A2+(dep*np.cos(PS))[...,None]*(DV+shear*RV)
    quads=np.stack([pts[:-1,:-1],pts[1:,:-1],pts[1:,1:],pts[:-1,1:]],axis=2)
    mid=quads.mean(axis=2)
    rr=np.hypot(mid[...,0],mid[...,1])
    if rule=='cyl':
        out=(rr>25)|(mid[...,2]<0)|(mid[...,2]>100)
    elif rule=='r':
        out=rr>25
    elif rule=='z':
        out=mid[...,2]<0
    elif rule=='all':
        out=np.ones(rr.shape,bool)
    else:
        out=np.zeros(rr.shape,bool)
    oc,ic=TONES[tone]
    oc=tuple(v/255 for v in oc); ic=tuple(v/255 for v in ic)
    poly(ax,quads[~out],ic,3+zo*.01)
    poly(ax,quads[out],oc,4+zo*.01)

def sphere(ax,x,y,z,d,code,zo):
    base=np.array(PALETTE[code])/255.
    n=14 if d>=14 else 6
    t=np.linspace(0,1,n)
    rad=d/2/7.32
    light=base+(1-base)*.9
    mid=base+(1-base)*.42
    cols=np.array([np.interp(t,[0,.12,.45,.75,1],[base[i]*.7,base[i]*.9,base[i],mid[i],light[i]]) for i in range(3)]).T
    r=1-.94*t
    sz=(d*.72*r)**2
    shift=t*rad
    pts=np.array([x,y,z])[None,:]+(-0.12*shift)[:,None]*RV+(.34*shift)[:,None]*np.array([0,0,1.])+(t*.6)[:,None]*DV
    ax.scatter(pts[:,0],pts[:,1],pts[:,2],s=sz,c=cols,linewidths=0,depthshade=False,zorder=zo)

def frame(ax,sans,to_fig):
    g='#808080'
    lw=1.3
    def L(p,q,c=g,w=lw,zo=4.5):
        ax.plot([p[0],q[0]],[p[1],q[1]],[p[2],q[2]],color=c,lw=w,zorder=zo,solid_capstyle='butt')
    L((-25,25,0),(-25,25,100),'#777777',1.8); L((25,25,0),(25,25,100))
    L((-25,-25,100),(-25,25,100)); L((-25,25,100),(25,25,100))
    L((-25,-25,0),(-25,25,0)); L((-25,25,0),(25,25,0))
    K='#222222'
    L((-25,-25,0),(-25,-25,100),'black',2.6,5)
    L((-25,-25,0),(25,-25,0),K,2,5); L((25,-25,0),(25,25,0),K,2,5)
    for z in range(0,101,5):
        n=2.4 if z%10==0 else 1.3
        q=np.array([-25,-25,z])-n*RV
        L((-25,-25,z),q,'black',1.9,5)
    for z in Z_TICKS:
        q=np.array([-25,-25,z])-5*RV
        fx,fy=to_fig(*q)
        fig.text(fx,fy,str(z),ha='right',va='center',family=SERIF,fontsize=24,color='#222222')
    for v in range(-25,26,5):
        n=2.6 if v%10==0 else 1.4
        L((v,-25,0),(v,-25,-n),K,1.7,5)
        L((25,v,0),(25,v,-n),K,1.7,5)
    for v in X_TICKS:
        lab=('\u2212%d'%-v) if v<0 else str(v)
        f=SANS if (v<0 and sans) else SERIF
        fs=25 if f==SANS else 23
        fx,fy=to_fig(v,-25,-6.6)
        fx-=(6/FW if v==20 else 0)
        fig.text(fx,fy,lab,ha='center',va='center',family=f,fontsize=fs,color='#222222')
    for v in Y_TICKS:
        lab=('\u2212%d'%-v) if v<0 else str(v)
        f=SANS if (v<0 and sans) else SERIF
        fs=25 if f==SANS else 23
        fx,fy=to_fig(25,v,-6.2)
        fx+=(10/FW if v==-20 else 0)
        fig.text(fx,fy,lab,ha='center',va='center',family=f,fontsize=fs,color='#222222')

for letter,col,row,groups,cis,cl_leg,ci_leg,sans in PANELS:
    ax=fig.add_axes([0,0,.3,.3],projection='3d',computed_zorder=False)
    ax.set_proj_type('persp')
    ax.view_init(elev=ELEV,azim=AZIM)
    ax.set_box_aspect((1,1,2.08),zoom=.76)
    ax.set_xlim(-25,25,view_margin=0); ax.set_ylim(-25,25,view_margin=0); ax.set_zlim(0,100,view_margin=0)
    ax.set_axis_off()
    ax.patch.set_alpha(0)
    cx,cy=COL_X[col],ROW_Y[row]
    to_fig=place(ax,cx,cy)
    cylinder(ax)
    for i,e in enumerate(cis):
        ellipsoid(ax,e,i)
    frame(ax,sans,to_fig)
    zo=10.
    for g in groups:
        for (x,y,z,d,code) in g:
            sphere(ax,x,y,z,d,code,zo); zo+=.01
    fig.text((cx-122)/FW,1-(cy+160)/FH,'X',family=SERIF,fontsize=33,ha='center',va='center',color='#222222')
    fig.text((cx+142)/FW,1-(cy+152)/FH,'Y',family=SERIF,fontsize=33,ha='center',va='center',color='#222222')
    fig.text((cx-375)/FW,1-(cy-345)/FH,'Z',family=SERIF,fontsize=33,ha='center',va='center',color='#222222')
    fig.text((cx-20)/FW,1-(cy+178)/FH,letter,family=SERIF,weight='bold',fontsize=50,ha='center',va='center',color='black')
    handles=[Line2D([],[],ls='',marker='o',ms=34,mfc=c,mec='none',label=n) for n,c in cl_leg]+[Patch(fc=c,ec='none',label=n) for n,c in ci_leg]
    fig.legend(handles=handles,loc='upper left',bbox_to_anchor=(LEG_X[col]/FW,1-LEG_Y[row]/FH),frameon=False,borderpad=0,borderaxespad=0,
               prop={'family':MONO,'size':26},handlelength=2.44,handleheight=1.47,labelspacing=.16,handletextpad=.55,labelcolor='#111111')

fig.savefig('out.png',dpi=100,facecolor='white')
